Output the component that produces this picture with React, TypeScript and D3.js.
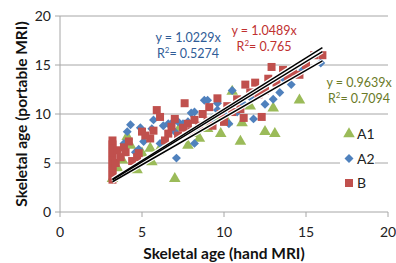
import React from "react";
import * as d3 from "d3";

// [hand MRI, portable MRI]
const seriesA1: [number, number][] = [
  [3.2, 3.4], [3.5, 4.5], [3.8, 5.3], [4.1, 7.7], [4.3, 6.8], [4.7, 4.3], [5.0, 6.0],
  [5.5, 6.5], [5.6, 5.1], [6.0, 6.2], [6.5, 6.8], [7.0, 3.4], [7.3, 8.6], [7.8, 6.8],
  [8.2, 8.0], [8.5, 7.5], [9.0, 8.5], [9.5, 9.6], [9.8, 8.0], [10.2, 9.2], [10.5, 12.3],
  [11.0, 7.2], [11.1, 9.1], [11.6, 10.8], [12.5, 8.2], [13.0, 10.6], [13.1, 8.0], [14.6, 11.4],
];

const seriesA2: [number, number][] = [
  [3.9, 7.0], [4.1, 8.2], [4.3, 8.9], [4.6, 6.1], [4.8, 6.4], [4.9, 8.6], [5.1, 7.2],
  [5.6, 8.5], [5.7, 9.4], [6.1, 7.0], [6.3, 8.8], [6.6, 9.0], [6.9, 9.2], [7.0, 8.2],
  [7.1, 5.5], [7.2, 9.2], [7.5, 9.0], [7.8, 9.2], [8.0, 10.1], [8.2, 10.2], [8.2, 7.0],
  [8.5, 8.4], [8.8, 11.4], [9.0, 11.4], [9.3, 9.6], [9.6, 10.4], [9.6, 11.1], [10.0, 10.0],
  [10.3, 9.0], [10.5, 12.4], [10.8, 10.2], [11.2, 11.0], [11.6, 11.7], [11.8, 9.5],
  [12.2, 12.0], [12.5, 11.0], [13.0, 11.5], [13.4, 12.2], [13.7, 13.5], [14.1, 13.0],
  [14.8, 14.5], [15.9, 15.2],
];

const seriesB: [number, number][] = [
  [3.2, 3.3], [3.2, 3.7], [3.2, 4.1], [3.2, 4.5], [3.2, 4.9], [3.2, 5.3], [3.2, 5.7],
  [3.2, 6.1], [3.2, 6.5], [3.2, 6.9], [3.2, 7.3], [3.4, 5.0], [3.5, 6.3], [3.7, 5.6],
  [3.9, 6.6], [4.0, 6.1], [4.2, 7.2], [4.4, 5.2], [4.7, 5.6], [4.8, 6.0], [5.0, 8.2],
  [5.2, 7.8], [5.5, 7.5], [5.7, 8.3], [5.9, 10.4], [6.1, 9.7], [6.4, 7.3], [6.6, 8.0],
  [6.8, 8.7], [7.0, 9.5], [7.2, 7.8], [7.5, 8.6], [7.6, 11.1], [7.8, 9.0], [8.0, 8.2],
  [8.2, 9.4], [8.5, 8.8], [8.7, 10.0], [9.0, 9.3], [9.1, 10.7], [9.3, 8.8], [9.6, 11.6],
  [9.8, 10.0], [10.0, 9.2], [10.2, 10.8], [10.5, 10.2], [10.8, 11.5], [11.0, 10.5],
  [11.2, 9.6], [11.3, 13.0], [11.6, 12.2], [11.9, 13.2], [12.1, 12.0], [12.3, 9.7],
  [12.5, 12.4], [12.7, 13.6], [12.9, 14.8], [13.2, 13.2], [13.6, 14.5], [13.9, 13.8],
  [14.2, 14.3], [14.6, 14.0], [15.0, 15.0], [15.5, 16.0], [16.0, 16.0],
];

// trendlines through origin
const slopes = [0.9639, 1.0229, 1.0489];
const fitRange = [3.2, 16];
const ticks = [0, 5, 10, 15, 20];

const FONT = "Lato, 'Open Sans', sans-serif";
const GRID = "#a6a6a6";

const x = d3.scaleLinear().domain([0, 20]).range([60, 388]);
const y = d3.scaleLinear().domain([0, 20]).range([212, 16]);

const tri = d3.symbol().type(d3.symbolTriangle).size(58)()!;
const sq = d3.symbol().type(d3.symbolSquare).size(64)()!;
const dia = d3.symbol().type(d3.symbolSquare).size(40)()!;

const series = [
  { name: "A1", data: seriesA1, path: tri, color: "#9bbb59", rot: 0 },
  { name: "A2", data: seriesA2, path: dia, color: "#4f81bd", rot: 45 },
  { name: "B", data: seriesB, path: sq, color: "#c0504d", rot: 0 },
];

const labels = [
  { eq: "y = 1.0229x", r2: "0.5274", color: "#2f5c97", x: 188, y: 42 },
  { eq: "y = 1.0489x", r2: "0.765", color: "#c0302f", x: 264, y: 35 },
  { eq: "y = 0.9639x", r2: "0.7094", color: "#6a7a28", x: 359, y: 87 },
];

export default function App() {
  return (
    <svg
      width={396}
      height={263}
      style={{ position: "absolute", left: 0, top: 0 }}
      fontFamily={FONT}
    >
      <rect x={0} y={0} width={396} height={263} fill="#fff" />
      {ticks.slice(1).map((t) => (
        <line key={t} x1={x(0)} x2={x(20)} y1={y(t)} y2={y(t)} stroke={GRID} strokeWidth={1} />
      ))}
      <line x1={x(0)} x2={x(0)} y1={y(0)} y2={y(20)} stroke={GRID} />
      <line x1={x(0)} x2={x(20)} y1={y(0)} y2={y(0)} stroke={GRID} />
      {ticks.map((t) => (
        <g key={t}>
          <line x1={x(0) - 5} x2={x(0)} y1={y(t)} y2={y(t)} stroke={GRID} />
          <line x1={x(t)} x2={x(t)} y1={y(0)} y2={y(0) + 5} stroke={GRID} />
          <text x={x(0) - 9} y={y(t) + 5} fontSize={14} textAnchor="end" fill="#222">
            {t}
          </text>
          <text x={x(t)} y={y(0) + 25} fontSize={14} textAnchor="middle" fill="#222">
            {t}
          </text>
        </g>
      ))}

      {series.map((s) =>
        s.data.map((d, i) => (
          <path
            key={s.name + i}
            d={s.path}
            fill={s.color}
            transform={`translate(${x(d[0])},${y(d[1])}) rotate(${s.rot})`}
          />
        ))
      )}

      {slopes.map((k) => (
        <line
          key={"w" + k}
          x1={x(fitRange[0])}
          y1={y(fitRange[0] * k)}
          x2={x(fitRange[1])}
          y2={y(fitRange[1] * k)}
          stroke="#fff"
          strokeWidth={4}
        />
      ))}
      {slopes.map((k) => (
        <line
          key={k}
          x1={x(fitRange[0])}
          y1={y(fitRange[0] * k)}
          x2={x(fitRange[1])}
          y2={y(fitRange[1] * k)}
          stroke="#000"
          strokeWidth={1.5}
        />
      ))}

      {labels.map((l) => (
        <text key={l.eq} fill={l.color} fontSize={12.5} textAnchor="middle">
          <tspan x={l.x} y={l.y}>{l.eq}</tspan>
          <tspan x={l.x} y={l.y + 16}>
            R<tspan dy={-5} fontSize={8}>2</tspan>
            <tspan dy={5}>= {l.r2}</tspan>
          </tspan>
        </text>
      ))}

      <rect x={340} y={122} width={35} height={72} fill="#fff" />
      {series.map((s, i) => (
        <g key={s.name} transform={`translate(349,${134 + i * 24.5})`}>
          <path d={s.path} fill={s.color} transform={`rotate(${s.rot})`} />
          <text x={8} y={5} fontSize={14} fill="#222">
            {s.name}
          </text>
        </g>
      ))}

      <text x={x(10)} y={259} fontSize={15.5} fontWeight="bold" textAnchor="middle" fill="#111">
        Skeletal age (hand MRI)
      </text>
      <text
        transform={`translate(27,${(y(0) + y(20)) / 2}) rotate(-90)`}
        fontSize={15.5}
        fontWeight="bold"
        textAnchor="middle"
        fill="#111"
      >
        Skeletal age (portable MRI)
      </text>
    </svg>
  );
}
